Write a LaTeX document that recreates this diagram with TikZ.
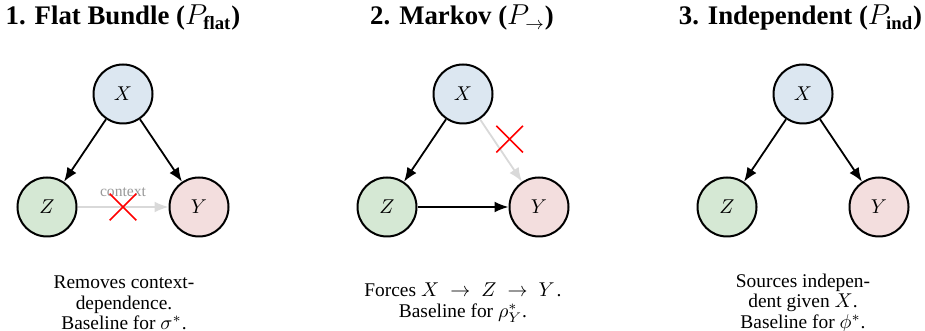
\documentclass[tikz,border=0pt]{standalone}
\usepackage{fontspec}
\setmainfont{LiberationSerif}[
  Extension      = .ttf,
  UprightFont    = *-Regular,
  BoldFont       = *-Bold,
  ItalicFont     = *-Italic,
  BoldItalicFont = *-BoldItalic]
\usepackage{xcolor}
\definecolor{cBlue} {HTML}{DCE7F1}
\definecolor{cGreen}{HTML}{D5E8D4}
\definecolor{cRed}  {HTML}{F3DEDE}
\definecolor{cFade} {HTML}{D9D9D9}
\definecolor{cLabel}{HTML}{999999}
\usepackage{tikz}
\usetikzlibrary{arrows.meta, positioning, shapes.misc}
\tikzset{
  rv/.style    = {circle, draw=black, line width=1pt, minimum size=29.5pt,
                  inner sep=0pt, font=\fontsize{10}{12}\selectfont},
  arr/.style   = {-{Latex[length=7pt,width=5.5pt]}, line width=0.9pt},
  gone/.style  = {arr, draw=cFade},
  xmark/.style = {cross out, draw=red, line width=0.8pt,
                  minimum size=12.5pt, inner sep=0pt},
  ttl/.style   = {anchor=base, font=\fontsize{13.4}{16}\selectfont\bfseries},
  note/.style  = {align=center, inner sep=1pt, font=\fontsize{9.7}{10.3}\selectfont},
  ctx/.style   = {above=4pt, inner sep=0.5pt, text=cLabel,
                  font=\fontsize{7.8}{9}\selectfont},
}

\begin{document}
\begin{tikzpicture}[x=0.5pt, y=0.5pt]
  \useasboundingbox (0,0) rectangle (925,331);

  %% Titles
  \node[ttl] (t1) at (123,306) {1. Flat Bundle (\(P_{\mathbf{flat}}\))};
  \node[ttl] (t2) at (462,306) {2. Markov (\(P_{\to}\))};
  \node[ttl] (t3) at (800.5,306) {3. Independent (\(P_{\mathbf{ind}}\))};

  %% Panel 1: flat bundle
  \node[rv, fill=cBlue] (x1) at (123,237) {$X$};
  \node[rv, fill=cGreen, on grid, below left=56.5pt and 38pt of x1]  (z1) {$Z$};
  \node[rv, fill=cRed,   on grid, below right=56.5pt and 38pt of x1] (y1) {$Y$};
  \draw[arr] (x1) -- (z1);
  \draw[arr] (x1) -- (y1);
  \draw[gone] (z1) -- node[ctx] (c1) {context} node[xmark] (k1) {} (y1);
  \node[note] (n1) at (124,28)
        {Removes context-\\dependence.\\Baseline for $\sigma^*$.};

  %% Panel 2: Markov
  \node[rv, fill=cBlue] (x2) at (463,237) {$X$};
  \node[rv, fill=cGreen, on grid, below left=56.5pt and 38pt of x2]  (z2) {$Z$};
  \node[rv, fill=cRed,   on grid, below right=56.5pt and 38pt of x2] (y2) {$Y$};
  \draw[arr]  (x2) -- (z2);
  \draw[arr]  (z2) -- (y2);
  \draw[gone] (x2) -- node[xmark, pos=0.44, xshift=5.6pt, yshift=3.8pt] (k2) {} (y2);
  \node[note] (n2) at (463,28)
        {Forces {\thickmuskip=10mu $X\to Z\to Y$}\hspace{1pt}.\\Baseline for $\rho^*_Y$.};

  %% Panel 3: independent
  \node[rv, fill=cBlue] (x3) at (803,237) {$X$};
  \node[rv, fill=cGreen, on grid, below left=56.5pt and 38pt of x3]  (z3) {$Z$};
  \node[rv, fill=cRed,   on grid, below right=56.5pt and 38pt of x3] (y3) {$Y$};
  \draw[arr] (x3) -- (z3);
  \draw[arr] (x3) -- (y3);
  \node[note] (n3) at (803,28)
        {Sources indepen-\\dent given $X$.\\Baseline for $\phi^*$.};

\end{tikzpicture}
\end{document}
